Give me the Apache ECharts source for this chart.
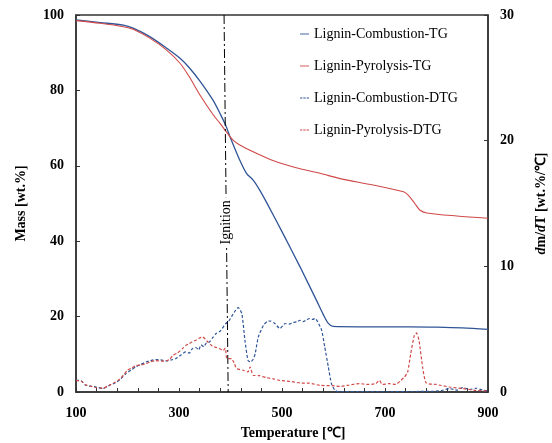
<!DOCTYPE html>
<html><head><meta charset="utf-8">
<script src="https://cdn.jsdelivr.net/npm/echarts@6/dist/echarts.min.js"></script>
<style>html,body{margin:0;padding:0;background:#fff}#c{width:552px;height:443px}</style>
</head><body><div id="c"></div>
<script>
const seriesNames = ['Lignin-Combustion-TG','Lignin-Pyrolysis-TG','Lignin-Combustion-DTG','Lignin-Pyrolysis-DTG'];

const combTG_T = [100,147,192,211,244,276,302,320,341,366,381,392,399,418,431,444,457,470,502,535,567,580,590,599,650,700,750,800,850,900];
const combTG_Y = [98.7,98.0,97.3,96.5,94.2,91.2,88.5,86.0,82.4,77.4,73.5,70.3,67.7,61.5,58.0,56.2,53.5,50.3,42.0,33.2,24.3,20.6,18.2,17.4,17.3,17.3,17.3,17.2,17.0,16.6];

const pyroTG_T = [100,147,192,211,244,276,302,320,341,366,380,392,405,418,444,477,509,541,574,613,677,736,745,758,768,781,839,900];
const pyroTG_Y = [98.5,97.8,96.9,96.2,93.8,90.7,87.2,83.6,78.7,73.6,71.2,69.0,66.8,65.5,63.7,61.7,60.2,59.0,58.0,56.6,54.9,53.1,52.2,50.0,48.2,47.5,46.7,46.1];

const combDTG_T = [100,110,119,130,139,152,165,175,184,197,207,216,226,236,245,255,265,275,285,294,304,313,320,326,333,338,343,348,353,359,365,372,380,391,396,405,415,422,428,434,439,444,448,454,464,471,477,486,496,506,514,522,530,535,541,548,554,560,564,569,577,583,590,596,603,610,650,700,750,790,810,825,840,851,865,877,890,900];
const combDTG_Y = [0.93,0.9,0.53,0.45,0.4,0.27,0.53,0.7,0.93,1.46,1.75,1.99,2.2,2.39,2.5,2.58,2.55,2.47,2.55,2.66,2.95,3.19,3.1,3.45,3.54,3.35,3.75,3.6,3.9,3.98,4.3,4.65,4.85,5.45,5.6,6.2,6.72,6.24,4.12,2.52,2.39,2.6,3.06,4.38,5.31,5.6,5.65,5.45,5.05,5.45,5.4,5.53,5.6,5.71,5.6,5.75,5.85,5.78,5.85,5.6,4.91,3.58,1.99,0.67,0.13,0.02,0.03,0.02,0.04,0.05,0.12,0.27,0.15,0.35,0.2,0.3,0.15,0.1];

const pyroDTG_T = [100,110,120,130,139,152,165,175,184,192,200,208,216,226,236,245,255,265,275,282,288,297,307,313,320,326,333,340,346,351,356,365,372,378,386,390,393,402,407,412,425,434,438,444,456,470,483,496,515,535,553,574,598,613,630,650,665,682,689,695,708,721,731,738,744,750,757,761,766,773,780,799,825,851,877,900];
const pyroDTG_Y = [0.93,0.85,0.55,0.45,0.35,0.3,0.55,0.75,1.0,1.35,1.73,1.9,2.1,2.15,2.26,2.4,2.5,2.45,2.47,2.6,2.92,3.1,3.46,3.7,3.85,4.0,4.12,4.3,4.38,4.2,3.98,3.64,3.55,3.46,3.32,3.5,2.66,2.66,2.3,1.86,1.73,1.6,1.99,1.33,1.3,1.14,1.05,0.93,0.85,0.72,0.7,0.53,0.5,0.45,0.55,0.67,0.6,0.67,0.93,0.6,0.67,0.6,0.93,1.2,1.59,3.06,4.51,4.7,4.12,1.99,0.72,0.6,0.4,0.27,0.13,0.08];

const xTicks = [100,300,500,700,900];
const ignitionLine = [[387.5,100],[395.5,0]];
const ignitionLabelAt = [392,45];

const zip = (a,b) => a.map((v,i)=>[v,b[i]]);
const BLUE = '#2f5597', RED = '#d04848';
const FONT = 'Liberation Serif';
const SOLID_ICON = 'path://M0,0H10V1H0Z';
const DASH_ICON = 'path://M0,0H2.6V1H0Z M3.7,0H6.3V1H3.7Z M7.4,0H10V1H7.4Z';

const axisLineStyle = {color:'#333', width:1.5};
const labelStyle = {fontFamily:FONT, fontWeight:'bold', fontSize:14, color:'#000'};

const chart = echarts.init(document.getElementById('c'));
chart.setOption({
  animation:false,
  backgroundColor:'#fff',
  grid:{left:76,right:64,top:15,bottom:51,containLabel:false,outerBoundsMode:'none',
        show:true,borderColor:'#333',borderWidth:1.5},
  legend:{
    orient:'vertical', left:295, top:21, itemWidth:9, itemHeight:1.3, itemGap:16,
    data:[
      {name:seriesNames[0],icon:SOLID_ICON},
      {name:seriesNames[1],icon:SOLID_ICON},
      {name:seriesNames[2],icon:DASH_ICON},
      {name:seriesNames[3],icon:DASH_ICON}
    ],
    textStyle:{fontFamily:FONT,fontSize:14,color:'#000',lineHeight:16}
  },
  xAxis:{
    type:'value', min:100, max:900, interval:40,
    axisLine:{show:true,lineStyle:axisLineStyle},
    axisTick:{show:true,inside:true,length:4,lineStyle:{color:'#333'}},
    axisLabel:Object.assign({margin:14,formatter:v=>xTicks.indexOf(v)>=0?String(v):''},labelStyle),
    splitLine:{show:false},
    name:'Temperature [℃]', nameLocation:'middle', nameGap:34,
    nameTextStyle:{fontFamily:FONT,fontWeight:'bold',fontSize:14,color:'#000',padding:[0,0,0,22]}
  },
  yAxis:[{
    type:'value', min:0, max:100, interval:20, position:'left',
    axisLine:{show:true,lineStyle:axisLineStyle},
    axisTick:{show:true,inside:true,length:4,lineStyle:{color:'#333'}},
    axisLabel:Object.assign({margin:12},labelStyle),
    splitLine:{show:false},
    name:'Mass [wt.%]', nameLocation:'middle', nameRotate:90, nameGap:48,
    nameTextStyle:{fontFamily:FONT,fontWeight:'bold',fontSize:14,color:'#000'}
  },{
    type:'value', min:0, max:30, interval:10, position:'right',
    axisLine:{show:true,lineStyle:axisLineStyle},
    axisTick:{show:true,inside:true,length:4,lineStyle:{color:'#333'}},
    axisLabel:Object.assign({margin:12},labelStyle),
    splitLine:{show:false},
    name:'{i|d}m/{i|d}T [wt.%/℃]', nameLocation:'middle', nameRotate:90, nameGap:46,
    nameTextStyle:{fontFamily:FONT,fontWeight:'bold',fontSize:14,color:'#000',
      rich:{i:{fontFamily:FONT,fontWeight:'bold',fontStyle:'italic',fontSize:14,color:'#000'}}}
  }],
  series:[
    {name:seriesNames[0],type:'line',yAxisIndex:0,symbol:'none',smooth:0.3,
     lineStyle:{color:BLUE,width:1.3},itemStyle:{color:BLUE},data:zip(combTG_T,combTG_Y),
     markLine:{silent:true,symbol:['none','none'],label:{show:false},
       lineStyle:{color:'#000',width:1,type:[9,3,2,3]},
       data:[[{coord:ignitionLine[0]},{coord:ignitionLine[1]}]]}},
    {name:seriesNames[1],type:'line',yAxisIndex:0,symbol:'none',smooth:0.3,
     lineStyle:{color:RED,width:1.1},itemStyle:{color:RED},data:zip(pyroTG_T,pyroTG_Y),
     markPoint:{silent:true,z:10,symbol:'rect',symbolSize:0,
       label:{show:true,formatter:'Ignition',rotate:90,position:'inside',backgroundColor:'#fff',padding:[0,3],
         fontFamily:FONT,fontSize:14,color:'#000'},
       data:[{coord:ignitionLabelAt}]}},
    {name:seriesNames[2],type:'line',yAxisIndex:1,symbol:'none',smooth:0.2,
     lineStyle:{color:BLUE,width:1.2,type:[3,2]},itemStyle:{color:BLUE},data:zip(combDTG_T,combDTG_Y)},
    {name:seriesNames[3],type:'line',yAxisIndex:1,symbol:'none',smooth:0.2,
     lineStyle:{color:RED,width:1.2,type:[3,2]},itemStyle:{color:RED},data:zip(pyroDTG_T,pyroDTG_Y)}
  ]
});
</script></body></html>
